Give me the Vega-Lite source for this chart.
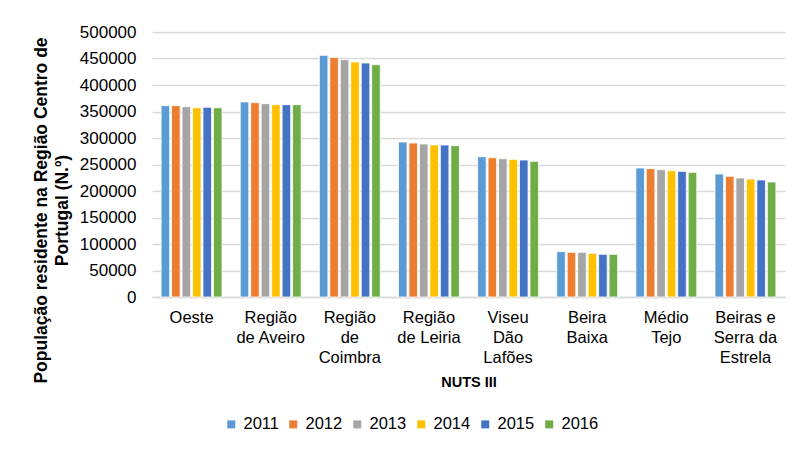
{
  "$schema": "https://vega.github.io/schema/vega-lite/v6.json",
  "autosize": {"type": "none"},
  "width": 633,
  "height": 265,
  "padding": {"left": 152, "top": 32, "right": 10, "bottom": 157},
  "background": "white",
  "config": {
    "font": "Liberation Sans",
    "view": {"stroke": null}
  },
  "data": {
    "values": [
      {"regiao": "Oeste", "ano": "2011", "pop": 361000},
      {"regiao": "Oeste", "ano": "2012", "pop": 361000},
      {"regiao": "Oeste", "ano": "2013", "pop": 359000},
      {"regiao": "Oeste", "ano": "2014", "pop": 357000},
      {"regiao": "Oeste", "ano": "2015", "pop": 358000},
      {"regiao": "Oeste", "ano": "2016", "pop": 357000},
      {"regiao": "Região de Aveiro", "ano": "2011", "pop": 368000},
      {"regiao": "Região de Aveiro", "ano": "2012", "pop": 366700},
      {"regiao": "Região de Aveiro", "ano": "2013", "pop": 364800},
      {"regiao": "Região de Aveiro", "ano": "2014", "pop": 362900},
      {"regiao": "Região de Aveiro", "ano": "2015", "pop": 362900},
      {"regiao": "Região de Aveiro", "ano": "2016", "pop": 362900},
      {"regiao": "Região de Coimbra", "ano": "2011", "pop": 456000},
      {"regiao": "Região de Coimbra", "ano": "2012", "pop": 452000},
      {"regiao": "Região de Coimbra", "ano": "2013", "pop": 447800},
      {"regiao": "Região de Coimbra", "ano": "2014", "pop": 443400},
      {"regiao": "Região de Coimbra", "ano": "2015", "pop": 441500},
      {"regiao": "Região de Coimbra", "ano": "2016", "pop": 438300},
      {"regiao": "Região de Leiria", "ano": "2011", "pop": 292500},
      {"regiao": "Região de Leiria", "ano": "2012", "pop": 290600},
      {"regiao": "Região de Leiria", "ano": "2013", "pop": 288700},
      {"regiao": "Região de Leiria", "ano": "2014", "pop": 286800},
      {"regiao": "Região de Leiria", "ano": "2015", "pop": 286800},
      {"regiao": "Região de Leiria", "ano": "2016", "pop": 285500},
      {"regiao": "Viseu Dão Lafões", "ano": "2011", "pop": 264700},
      {"regiao": "Viseu Dão Lafões", "ano": "2012", "pop": 262800},
      {"regiao": "Viseu Dão Lafões", "ano": "2013", "pop": 260900},
      {"regiao": "Viseu Dão Lafões", "ano": "2014", "pop": 259700},
      {"regiao": "Viseu Dão Lafões", "ano": "2015", "pop": 258500},
      {"regiao": "Viseu Dão Lafões", "ano": "2016", "pop": 256000},
      {"regiao": "Beira Baixa", "ano": "2011", "pop": 85500},
      {"regiao": "Beira Baixa", "ano": "2012", "pop": 84300},
      {"regiao": "Beira Baixa", "ano": "2013", "pop": 84300},
      {"regiao": "Beira Baixa", "ano": "2014", "pop": 82400},
      {"regiao": "Beira Baixa", "ano": "2015", "pop": 80600},
      {"regiao": "Beira Baixa", "ano": "2016", "pop": 80600},
      {"regiao": "Médio Tejo", "ano": "2011", "pop": 243400},
      {"regiao": "Médio Tejo", "ano": "2012", "pop": 242100},
      {"regiao": "Médio Tejo", "ano": "2013", "pop": 240200},
      {"regiao": "Médio Tejo", "ano": "2014", "pop": 238400},
      {"regiao": "Médio Tejo", "ano": "2015", "pop": 237100},
      {"regiao": "Médio Tejo", "ano": "2016", "pop": 235200},
      {"regiao": "Beiras e Serra da Estrela", "ano": "2011", "pop": 232000},
      {"regiao": "Beiras e Serra da Estrela", "ano": "2012", "pop": 227700},
      {"regiao": "Beiras e Serra da Estrela", "ano": "2013", "pop": 224500},
      {"regiao": "Beiras e Serra da Estrela", "ano": "2014", "pop": 222600},
      {"regiao": "Beiras e Serra da Estrela", "ano": "2015", "pop": 220800},
      {"regiao": "Beiras e Serra da Estrela", "ano": "2016", "pop": 217000}
    ]
  },
  "mark": {"type": "bar", "stroke": "white", "strokeWidth": 0.8},
  "encoding": {
    "x": {
      "field": "regiao",
      "type": "nominal",
      "sort": null,
      "scale": {"paddingInner": 0.23, "paddingOuter": 0.115},
      "axis": {
        "title": "NUTS III",
        "titleFontSize": 14.5,
        "titleFontWeight": "bold",
        "titleColor": "black",
        "titlePadding": 10,
        "labelAngle": 0,
        "labelFontSize": 16.5,
        "labelColor": "black",
        "labelLineHeight": 20,
        "labelPadding": 12,
        "ticks": false,
        "domainColor": "#D9D9D9",
        "domainWidth": 1.5,
        "labelExpr": "{'Oeste': ['Oeste'], 'Região de Aveiro': ['Região', 'de Aveiro'], 'Região de Coimbra': ['Região', 'de', 'Coimbra'], 'Região de Leiria': ['Região', 'de Leiria'], 'Viseu Dão Lafões': ['Viseu', 'Dão', 'Lafões'], 'Beira Baixa': ['Beira', 'Baixa'], 'Médio Tejo': ['Médio', 'Tejo'], 'Beiras e Serra da Estrela': ['Beiras e', 'Serra da', 'Estrela']}[datum.label]"
      }
    },
    "xOffset": {"field": "ano", "type": "nominal", "scale": {"paddingInner": 0.18}},
    "y": {
      "field": "pop",
      "type": "quantitative",
      "scale": {"domain": [0, 500000]},
      "axis": {
        "title": ["População residente na Região Centro de", "Portugal (N.º)"],
        "titleFontSize": 17.5,
        "titleFontWeight": "bold",
        "titleColor": "black",
        "titleLineHeight": 21,
        "titleX": -102,
        "titleY": 178,
        "titleBaseline": "bottom",
        "titleAngle": -90,
        "titleAlign": "center",
        "values": [0, 50000, 100000, 150000, 200000, 250000, 300000, 350000, 400000, 450000, 500000],
        "format": "d",
        "labelFontSize": 17,
        "labelColor": "black",
        "labelPadding": 16,
        "ticks": false,
        "domain": false,
        "gridColor": "#D9D9D9",
        "gridWidth": 1.5
      }
    },
    "color": {
      "field": "ano",
      "type": "nominal",
      "scale": {
        "domain": ["2011", "2012", "2013", "2014", "2015", "2016"],
        "range": ["#5B9BD5", "#ED7D31", "#A5A5A5", "#FFC000", "#4472C4", "#70AD47"]
      },
      "legend": {
        "title": null,
        "orient": "none",
        "legendX": 71,
        "legendY": 384,
        "direction": "horizontal",
        "symbolType": "square",
        "symbolSize": 64,
        "symbolStrokeWidth": 0,
        "symbolOffset": 0,
        "labelOffset": 4,
        "labelFontSize": 16.5,
        "labelColor": "black",
        "columnPadding": 6
      }
    }
  }
}
